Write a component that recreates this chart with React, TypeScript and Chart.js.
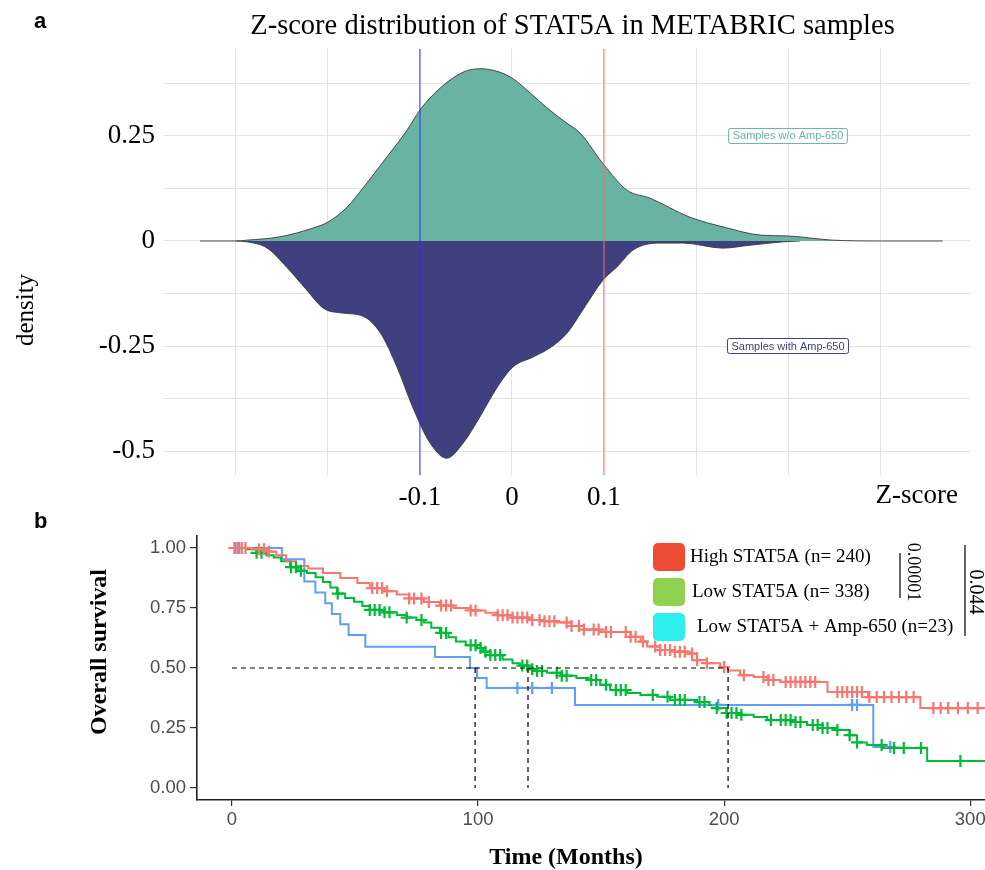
import React, { useEffect, useRef } from "react";
import { Chart, registerables } from "chart.js";

Chart.register(...registerables);

// ---------------- Panel a : density of STAT5A z-scores ----------------
const TITLE_A = "Z-score distribution of STAT5A in METABRIC samples";
const Z_MIN = -0.3793;
const Z_MAX = 0.4978;
const D_MIN = -0.557;
const D_MAX = 0.457;
const zGridTicks = [-0.3, -0.2, -0.1, 0, 0.1, 0.2, 0.3, 0.4];
const zLabeledTicks = [-0.1, 0, 0.1];
const densityGridTicks = [-0.5, -0.375, -0.25, -0.125, 0, 0.125, 0.25, 0.375];
const densityLabeledTicks = [-0.5, -0.25, 0, 0.25];
const cutoffValues = [-0.1, 0.1];
const cutoffColors = ["#2a2aff", "#ff6a6a"];

const woAmpZ = [-0.339, -0.3, -0.288, -0.252, -0.216, -0.2, -0.179, -0.162, -0.136, -0.114, -0.1, -0.078, -0.053, -0.035, -0.018, 0, 0.02, 0.038, 0.058, 0.074, 0.1, 0.125, 0.15, 0.193, 0.234, 0.27, 0.299, 0.349, 0.403, 0.468];
const woAmpDensity = [0, 0, 0.002, 0.01, 0.031, 0.045, 0.081, 0.126, 0.2, 0.264, 0.312, 0.364, 0.402, 0.41, 0.405, 0.388, 0.352, 0.317, 0.283, 0.257, 0.181, 0.121, 0.102, 0.057, 0.031, 0.014, 0.012, 0.002, 0, 0];

const withAmpZ = [-0.3, -0.288, -0.266, -0.245, -0.223, -0.205, -0.187, -0.162, -0.143, -0.125, -0.108, -0.089, -0.071, -0.053, -0.035, -0.016, 0.001, 0.023, 0.041, 0.06, 0.077, 0.099, 0.114, 0.132, 0.161, 0.186, 0.229, 0.259, 0.295, 0.313];
const withAmpDensity = [0, -0.002, -0.017, -0.062, -0.117, -0.16, -0.171, -0.179, -0.219, -0.3, -0.395, -0.481, -0.517, -0.481, -0.419, -0.348, -0.3, -0.276, -0.255, -0.219, -0.164, -0.093, -0.062, -0.021, -0.005, -0.005, -0.017, -0.01, -0.002, 0];

const groupLabels = ["Samples w/o Amp-650", "Samples with Amp-650"];
const groupFill = ["#69b3a2", "#404080"];
const groupLabelZ = [0.3, 0.3];
const groupLabelD = [0.25, -0.25];

// ---------------- Panel b : Kaplan-Meier ----------------
const T_MIN = -14.2;
const T_MAX = 306;
const timeTicks = [0, 100, 200, 300];
const survTicks = [0, 0.25, 0.5, 0.75, 1];

const kmLabels = ["High STAT5A (n= 240)", "Low STAT5A (n= 338)", "Low STAT5A + Amp-650 (n=23)"];
const kmLineColors = ["#F8766D", "#00BA38", "#619CFF"];
const kmLegendColors = ["#EE4B35", "#92D050", "#2EEEEE"];

const highT = [0, 8, 14, 18, 22, 26, 31, 37, 44, 51, 56, 62, 67, 72, 78, 84.5, 90, 97, 103, 108, 114, 121, 127, 132, 138, 143, 149.6, 162, 166, 168.7, 174, 180, 185, 189, 193, 198.4, 201.5, 206.5, 212, 217.5, 222.8, 242, 258.5, 279.7, 306];
const highS = [1, 0.995, 0.985, 0.97, 0.945, 0.925, 0.915, 0.896, 0.875, 0.854, 0.833, 0.82, 0.806, 0.79, 0.775, 0.76, 0.75, 0.74, 0.73, 0.72, 0.71, 0.7, 0.695, 0.69, 0.675, 0.66, 0.65, 0.63, 0.61, 0.59, 0.575, 0.568, 0.56, 0.533, 0.52, 0.504, 0.49, 0.47, 0.4625, 0.45, 0.442, 0.4, 0.379, 0.333, 0.333];
const highCensor = [1, 2.5, 4, 5.5, 11, 13, 15, 57, 59, 61, 63, 72, 74, 77, 80, 85, 87, 89, 97, 99, 108, 110, 112, 114, 116, 118, 120, 122, 125, 127, 129, 131, 136, 138, 141, 143, 147, 149, 152, 154, 160, 162, 164, 167, 172, 174, 176, 178, 180, 182, 184, 187, 189, 193, 200, 208, 216, 218, 220, 225, 227, 229, 231, 233, 235, 237, 246, 248, 250, 252, 254, 256, 259, 262, 265, 268, 271, 274, 277, 285, 288, 291, 295, 299, 303];

const lowT = [0, 6, 10, 14, 17, 20, 23.6, 27, 30.5, 34, 37, 40, 42.7, 46, 49.6, 53, 56, 62, 67, 71, 75, 78, 81, 84.5, 88, 91, 95, 99.6, 102, 105, 110, 114, 117, 120.5, 124, 128, 134, 140, 145, 149.6, 153.7, 160.6, 166, 172.8, 178, 189, 194, 197, 201, 206, 212, 217.5, 228, 233.7, 240, 246, 251, 254, 258, 264.6, 282.5, 306];
const lowS = [1, 0.995, 0.98, 0.97, 0.96, 0.945, 0.92, 0.905, 0.896, 0.878, 0.858, 0.835, 0.81, 0.792, 0.776, 0.758, 0.742, 0.732, 0.721, 0.71, 0.7, 0.69, 0.668, 0.646, 0.628, 0.61, 0.595, 0.583, 0.568, 0.554, 0.535, 0.52, 0.51, 0.495, 0.488, 0.48, 0.468, 0.458, 0.45, 0.43, 0.408, 0.396, 0.388, 0.38, 0.367, 0.358, 0.345, 0.333, 0.3125, 0.305, 0.296, 0.283, 0.275, 0.2625, 0.25, 0.242, 0.22, 0.19, 0.179, 0.167, 0.1125, 0.1125];
const lowCensor = [10, 12, 24, 26, 28, 43, 56, 58, 60, 62, 64, 71, 77, 85, 87, 97, 99, 101, 103, 105, 107, 109, 118, 120, 122, 124, 126, 132, 134, 136, 146, 148, 152, 156, 158, 160, 171, 177, 180, 182, 184, 190, 192, 197, 201, 203, 205, 207, 219, 223, 225, 227, 229, 231, 236, 238, 240, 242, 246, 251, 254, 264, 269, 273, 280, 296];

const ampT = [0, 20.3, 29.4, 33.9, 37.9, 40.6, 44, 47.4, 54.2, 82.5, 96.7, 99.6, 103.5, 139.4, 260.6, 269.5];
const ampS = [1, 0.953, 0.86, 0.815, 0.77, 0.725, 0.682, 0.6375, 0.589, 0.546, 0.5, 0.458, 0.417, 0.346, 0.171, 0.171];
const ampCensor = [1.5, 3, 116, 122, 130, 197.6, 252, 254, 267.5];

const medianSurvival = 0.5;
const medianTimes = [98.8, 120.3, 201.6];
const pValues = ["0.00001", "0.044"];

const SERIF = '"Liberation Serif", "DejaVu Serif", serif';
const SANS = '"Liberation Sans", Arial, sans-serif';

function survAt(times: number[], surv: number[], t: number) {
  let s = surv[0];
  for (let i = 0; i < times.length; i++) {
    if (times[i] <= t) s = surv[i];
  }
  return s;
}

const panelAText = {
  id: "panelAText",
  afterDraw(chart: any) {
    const { ctx, chartArea, scales } = chart;
    ctx.save();
    ctx.fillStyle = "#000";
    ctx.textBaseline = "middle";
    ctx.textAlign = "left";
    ctx.font = `bold 22px ${SANS}`;
    ctx.fillText("a", 34, 22);
    ctx.textAlign = "center";
    ctx.font = `28.5px ${SERIF}`;
    ctx.fillText(TITLE_A, (chartArea.left + chartArea.right) / 2 + 6, 27);
    // y title
    ctx.save();
    ctx.translate(26, 310);
    ctx.rotate(-Math.PI / 2);
    ctx.font = `25px ${SERIF}`;
    ctx.fillText("density", 0, 0);
    ctx.restore();
    // x title at right end
    ctx.textAlign = "right";
    ctx.font = `27px ${SERIF}`;
    ctx.fillText("Z-score", chartArea.right - 12, chartArea.bottom + 21);
    // group labels
    ctx.font = `11px ${SANS}`;
    ctx.textAlign = "center";
    groupLabels.forEach((lab, i) => {
      const x = scales.x.getPixelForValue(groupLabelZ[i]);
      const y = scales.y.getPixelForValue(groupLabelD[i]);
      const w = ctx.measureText(lab).width + 8;
      const h = 15;
      ctx.fillStyle = "#fff";
      ctx.strokeStyle = groupFill[i];
      ctx.lineWidth = 1;
      ctx.beginPath();
      ctx.roundRect(x - w / 2, y - h / 2, w, h, 2);
      ctx.fill();
      ctx.stroke();
      ctx.fillStyle = groupFill[i];
      ctx.fillText(lab, x, y + 0.5);
    });
    ctx.restore();
  },
};

const panelBText = {
  id: "panelBText",
  afterDraw(chart: any) {
    const { ctx } = chart;
    ctx.save();
    ctx.fillStyle = "#000";
    ctx.textBaseline = "middle";
    ctx.textAlign = "left";
    ctx.font = `bold 22px ${SANS}`;
    ctx.fillText("b", 34, 12);
    // legend
    const rowY = [47, 82, 117];
    const textX = [690, 692, 697];
    kmLabels.forEach((lab, i) => {
      ctx.fillStyle = kmLegendColors[i];
      ctx.beginPath();
      ctx.roundRect(653, rowY[i] - 14, 32, 28, 5);
      ctx.fill();
      ctx.fillStyle = "#000";
      ctx.font = `19px ${SERIF}`;
      ctx.textAlign = "left";
      ctx.fillText(lab, textX[i], rowY[i]);
    });
    // p-value brackets
    ctx.strokeStyle = "#000";
    ctx.lineWidth = 1.2;
    ctx.beginPath();
    ctx.moveTo(900, 43);
    ctx.lineTo(900, 88);
    ctx.moveTo(965, 35);
    ctx.lineTo(965, 126);
    ctx.stroke();
    ctx.textAlign = "center";
    const pPos = [
      [913, 62, 18],
      [975, 82, 20],
    ];
    pValues.forEach((p, i) => {
      ctx.save();
      ctx.font = `${pPos[i][2]}px ${SERIF}`;
      ctx.translate(pPos[i][0], pPos[i][1]);
      ctx.rotate(Math.PI / 2);
      ctx.fillText(p, 0, 0);
      ctx.restore();
    });
    // axis titles
    ctx.font = `bold 24px ${SERIF}`;
    ctx.save();
    ctx.translate(100, 142);
    ctx.rotate(-Math.PI / 2);
    ctx.fillText("Overall survival", 0, 0);
    ctx.restore();
    ctx.fillText("Time (Months)", 566, 348);
    ctx.restore();
  },
};

export default function App() {
  const topRef = useRef<HTMLCanvasElement>(null);
  const botRef = useRef<HTMLCanvasElement>(null);

  useEffect(() => {
    const round1 = (v: number) => Math.round(v * 1000) / 1000;
    const top = new Chart(topRef.current as HTMLCanvasElement, {
      type: "line",
      data: {
        datasets: [
          ...cutoffValues.map((c, i) => ({
            label: "cutoff " + c,
            data: [
              { x: c, y: D_MIN },
              { x: c, y: D_MAX },
            ],
            borderColor: cutoffColors[i],
            borderWidth: 1,
            pointRadius: 0,
            fill: false,
          })),
          {
            label: groupLabels[0],
            data: woAmpZ.map((x, i) => ({ x, y: woAmpDensity[i] })),
            borderColor: "#3a3a3a",
            borderWidth: 0.9,
            backgroundColor: groupFill[0],
            fill: "origin",
            pointRadius: 0,
            cubicInterpolationMode: "monotone",
          },
          {
            label: groupLabels[1],
            data: withAmpZ.map((x, i) => ({ x, y: withAmpDensity[i] })),
            borderColor: "#3a3a3a",
            borderWidth: 0.9,
            backgroundColor: groupFill[1],
            fill: "origin",
            pointRadius: 0,
            cubicInterpolationMode: "monotone",
          },
        ],
      },
      options: {
        animation: false,
        responsive: false,
        events: [],
        layout: { autoPadding: false, padding: { top: 49, right: 15, left: 0, bottom: 0 } },
        plugins: { legend: { display: false }, tooltip: { enabled: false }, title: { display: false } },
        scales: {
          x: {
            type: "linear",
            min: Z_MIN,
            max: Z_MAX,
            afterBuildTicks: (s: any) => {
              s.ticks = zGridTicks.map((v) => ({ value: v }));
            },
            afterFit: (s: any) => {
              s.height = 35;
              s.paddingLeft = 0;
              s.paddingRight = 0;
            },
            grid: { color: "#e4e4e4", lineWidth: 1, drawTicks: false },
            border: { display: false },
            ticks: {
              autoSkip: false,
              maxRotation: 0,
              padding: 7,
              color: "#000",
              font: { family: SERIF, size: 27 },
              callback: (v: any) => (zLabeledTicks.some((l) => Math.abs(l - v) < 1e-9) ? String(round1(v)) : ""),
            },
          },
          y: {
            type: "linear",
            min: D_MIN,
            max: D_MAX,
            afterBuildTicks: (s: any) => {
              s.ticks = densityGridTicks.map((v) => ({ value: v }));
            },
            afterFit: (s: any) => {
              s.width = 163;
              s.paddingTop = 0;
              s.paddingBottom = 0;
            },
            grid: { color: "#e4e4e4", lineWidth: 1, drawTicks: false },
            border: { display: false },
            ticks: {
              autoSkip: false,
              padding: 8,
              color: "#000",
              font: { family: SERIF, size: 27 },
              callback: (v: any) => (densityLabeledTicks.some((l) => Math.abs(l - v) < 1e-9) ? String(round1(v)) : ""),
            },
          },
        },
      },
      plugins: [panelAText],
    } as any);

    const stepData = (T: number[], S: number[]) => T.map((t, i) => ({ x: t, y: S[i] }));
    const censorData = (C: number[], T: number[], S: number[]) => C.map((t) => ({ x: t, y: survAt(T, S, t) }));
    const curves: number[][][] = [
      [highT, highS, highCensor],
      [lowT, lowS, lowCensor],
      [ampT, ampS, ampCensor],
    ];
    const maxMedian = Math.max(...medianTimes);
    const dashed = {
      borderColor: "#000",
      borderWidth: 1.2,
      borderDash: [5, 4],
      pointRadius: 0,
      fill: false,
    };

    const bot = new Chart(botRef.current as HTMLCanvasElement, {
      type: "line",
      data: {
        datasets: [
          { label: "median line", data: [{ x: 0, y: medianSurvival }, { x: maxMedian, y: medianSurvival }], ...dashed },
          ...medianTimes.map((m) => ({
            label: "median " + m,
            data: [
              { x: m, y: medianSurvival },
              { x: m, y: 0 },
            ],
            ...dashed,
          })),
          ...curves.map((c, i) => ({
            label: kmLabels[i] + " censored",
            data: censorData(c[2], c[0], c[1]),
            showLine: false,
            pointStyle: "cross",
            pointRadius: 6,
            pointBorderWidth: 2.2,
            borderColor: kmLineColors[i],
            backgroundColor: kmLineColors[i],
          })),
          ...curves.map((c, i) => ({
            label: kmLabels[i],
            data: stepData(c[0], c[1]),
            stepped: "before",
            borderColor: kmLineColors[i],
            borderWidth: 2,
            pointRadius: 0,
            fill: false,
          })),
        ],
      },
      options: {
        animation: false,
        responsive: false,
        events: [],
        layout: { autoPadding: false, padding: { top: 26, right: 0, left: 0, bottom: 0 } },
        plugins: { legend: { display: false }, tooltip: { enabled: false }, title: { display: false } },
        scales: {
          x: {
            type: "linear",
            min: T_MIN,
            max: T_MAX,
            afterBuildTicks: (s: any) => {
              s.ticks = timeTicks.map((v) => ({ value: v }));
            },
            afterFit: (s: any) => {
              s.height = 70;
              s.paddingLeft = 0;
              s.paddingRight = 0;
            },
            grid: { display: true, drawOnChartArea: false, drawTicks: true, tickLength: 6, color: "#333", lineWidth: 1.2 },
            border: { display: true, color: "#222", width: 1.6 },
            ticks: {
              autoSkip: false,
              maxRotation: 0,
              padding: 3,
              color: "#4d4d4d",
              font: { family: SANS, size: 18.5 },
              callback: (v: any) => String(v),
            },
          },
          y: {
            type: "linear",
            min: -0.05,
            max: 1.05,
            afterBuildTicks: (s: any) => {
              s.ticks = survTicks.map((v) => ({ value: v }));
            },
            afterFit: (s: any) => {
              s.width = 197;
              s.paddingTop = 0;
              s.paddingBottom = 0;
            },
            grid: { display: true, drawOnChartArea: false, drawTicks: true, tickLength: 7, color: "#333", lineWidth: 1.2 },
            border: { display: true, color: "#222", width: 1.6 },
            ticks: {
              autoSkip: false,
              padding: 4,
              color: "#4d4d4d",
              font: { family: SANS, size: 18.5 },
              callback: (v: any) => Number(v).toFixed(2),
            },
          },
        },
      },
      plugins: [panelBText],
    } as any);

    return () => {
      top.destroy();
      bot.destroy();
    };
  }, []);

  return (
    <div style={{ position: "absolute", left: 0, top: 0, width: 985, height: 870, background: "#fff" }}>
      <canvas ref={topRef} width={985} height={510} style={{ position: "absolute", left: 0, top: 0 }} />
      <canvas ref={botRef} width={985} height={360} style={{ position: "absolute", left: 0, top: 510 }} />
    </div>
  );
}
